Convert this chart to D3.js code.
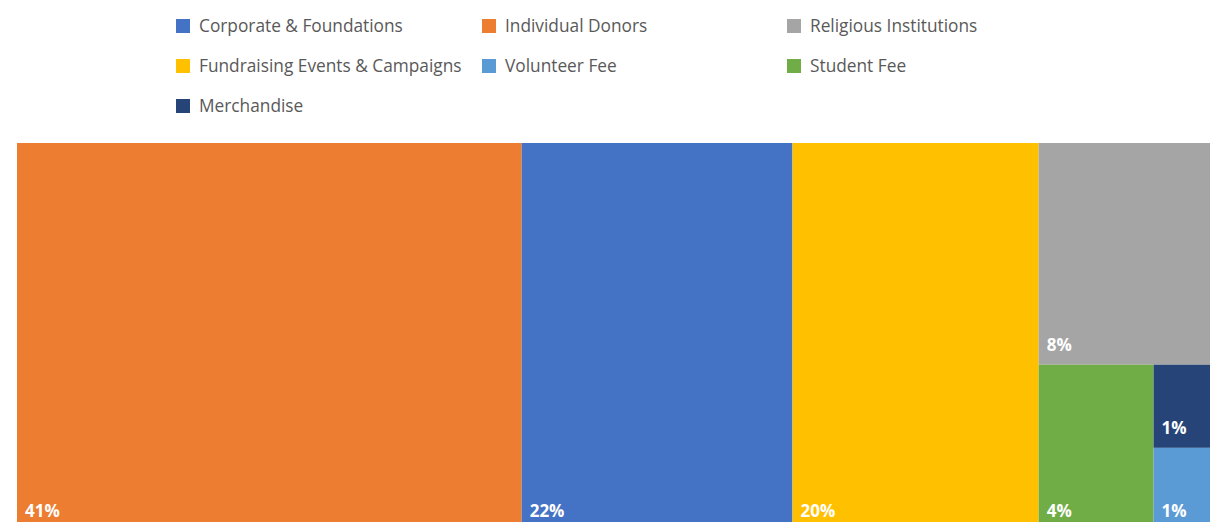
<!DOCTYPE html>
<html>
<head>
<meta charset="utf-8">
<script src="https://cdn.jsdelivr.net/npm/d3@7"></script>
<style>
  html, body { margin: 0; padding: 0; background: #fff; overflow: hidden; }
  svg { display: block; }
</style>
</head>
<body>
<svg id="chart" width="1210" height="522"></svg>
<script>
// Funding sources, share of total (%)
const categories = [
  "Corporate & Foundations",
  "Individual Donors",
  "Religious Institutions",
  "Fundraising Events & Campaigns",
  "Volunteer Fee",
  "Student Fee",
  "Merchandise"
];
const shares = [22, 41, 8, 20, 1, 4, 1];
const colors = ["#4472C4", "#ED7D31", "#A5A5A5", "#FFC000", "#5B9BD5", "#70AD47", "#264478"];

const W = 1210, H = 522;
const svg = d3.select("#chart");
const font = "'Open Sans', 'Noto Sans', sans-serif";

// Legend: three columns, row-major
const legendCols = [176, 482, 787];
const legendRowY = [26, 66, 106];
const legend = svg.append("g");
categories.forEach((name, i) => {
  const col = i % 3, row = Math.floor(i / 3);
  const g = legend.append("g")
    .attr("transform", `translate(${legendCols[col]},${legendRowY[row]})`);
  g.append("rect")
    .attr("x", 0).attr("y", -7).attr("width", 14).attr("height", 14)
    .attr("fill", colors[i]);
  g.append("text")
    .attr("x", 23).attr("y", 0).attr("dy", "0.35em")
    .attr("font-family", font).attr("font-size", 17.3)
    .attr("fill", "#595959")
    .text(name);
});

// Treemap
const data = {
  name: "root",
  children: categories.map((name, i) => ({ name, value: shares[i], color: colors[i] }))
};
const root = d3.hierarchy(data)
  .sum(d => d.value || 0)
  .sort((a, b) => (b.value - a.value) || d3.ascending(a.data.name, b.data.name));

d3.treemap()
  .tile(d3.treemapSquarify.ratio(1))
  .size([1194, 388])
  .round(false)(root);

const plot = svg.append("g").attr("transform", "translate(17,143)");
const cells = plot.selectAll("g.cell")
  .data(root.leaves())
  .join("g")
  .attr("class", "cell");

cells.append("rect")
  .attr("x", d => d.x0).attr("y", d => d.y0)
  .attr("width", d => d.x1 - d.x0).attr("height", d => d.y1 - d.y0)
  .attr("fill", d => d.data.color);

cells.append("text")
  .attr("x", d => d.x0 + 8)
  .attr("y", d => d.y1 - 14)
  .attr("font-family", font).attr("font-size", 17).attr("font-weight", 700)
  .attr("fill", "#ffffff")
  .text(d => d.data.value + "%");
</script>
</body>
</html>
